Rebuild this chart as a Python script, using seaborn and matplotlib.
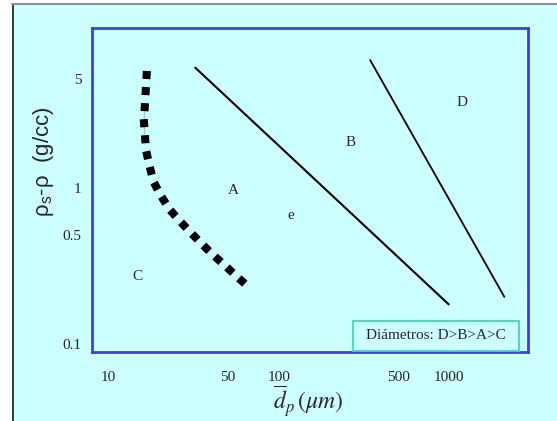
import matplotlib
matplotlib.use('Agg')
import matplotlib.pyplot as plt
from matplotlib.patches import Rectangle
from matplotlib.lines import Line2D
import seaborn as sns
import pandas as pd

# boundary lines (dp in um, rho_s - rho in g/cc)
line_ab_x = [32.3, 992]
line_ab_y = [5.87, 0.179]
line_bd_x = [343, 2104]
line_bd_y = [6.57, 0.200]

# dotted C/A boundary
curve_c_x = [16.8, 16.2, 16.1, 16.2, 16.6, 17.4, 18.4, 20.2, 22.7, 26.1, 30.3, 35.2, 41.0, 48.0, 56.2, 66.2]
curve_c_y = [5.59, 3.50, 2.78, 2.20, 1.74, 1.38, 1.09, 0.898, 0.731, 0.615, 0.518, 0.438, 0.372, 0.319, 0.272, 0.232]

region_labels = ['A', 'B', 'D', 'C', 'e']
region_x = [53.7, 265, 1190, 14.8, 117]
region_y = [0.957, 1.95, 3.52, 0.269, 0.662]

xtick_vals = [10, 50, 100, 500, 1000]
xtick_text = ['10', '50', '100', '500', '1000']
ytick_vals = [0.1, 0.5, 1, 5]
ytick_text = ['0.1', '0.5', '1', '5']

legend_text = 'Diámetros: D>B>A>C'

bg = '#ccffff'

sns.set_theme(style='white')
plt.rcParams['font.family'] = ['Liberation Serif', 'DejaVu Serif']
plt.rcParams['mathtext.fontset'] = 'stix'

fig = plt.figure(figsize=(5.57, 4.21), dpi=100)
fig.patch.set_facecolor('white')
W, H = 557, 421
fig.patches.append(Rectangle((12 / W, 0), 1, 1 - 4 / H, transform=fig.transFigure,
                             facecolor=bg, edgecolor='none', zorder=-2))
fig.lines.append(Line2D([12.5 / W, 12.5 / W], [0, 1 - 4 / H], transform=fig.transFigure,
                        color='#1a1a1a', lw=1.2, zorder=-1))
fig.lines.append(Line2D([12 / W, 1], [1 - 4 / H, 1 - 4 / H], transform=fig.transFigure,
                        color='#8a9494', lw=1.5, zorder=-1))

ax = fig.add_axes([91.5 / W, 1 - 351.7 / H, (528.2 - 91.5) / W, (351.7 - 27.7) / H])
ax.set_facecolor(bg)

df_ab = pd.DataFrame({'dp': line_ab_x, 'drho': line_ab_y})
df_bd = pd.DataFrame({'dp': line_bd_x, 'drho': line_bd_y})
df_c = pd.DataFrame({'dp': curve_c_x, 'drho': curve_c_y})

sns.lineplot(data=df_ab, x='dp', y='drho', ax=ax, color='black', lw=1.5, sort=False)
sns.lineplot(data=df_bd, x='dp', y='drho', ax=ax, color='black', lw=1.3, sort=False)
sns.lineplot(data=df_c, x='dp', y='drho', ax=ax, color='black', lw=5.8, sort=False,
             linestyle=(0, (1, 1.0)), dash_capstyle='butt')

ax.set_xscale('log')
ax.set_yscale('log')
ax.set_xlim(7.95, 2904)
ax.set_ylim(0.0891, 10.58)

for lab, x, y in zip(region_labels, region_x, region_y):
    ax.text(x, y, lab, ha='center', va='center', fontsize=11)

ax.set_xticks(xtick_vals)
ax.set_xticklabels(xtick_text)
ax.set_yticks(ytick_vals)
ax.set_yticklabels(ytick_text)
ax.minorticks_off()
ax.tick_params(axis='both', length=0, labelsize=11)
ax.tick_params(axis='x', pad=14)
ax.tick_params(axis='y', pad=7)

for sp in ax.spines.values():
    sp.set_visible(True)
    sp.set_color('#4040d8')
    sp.set_linewidth(2)

ax.add_patch(Rectangle((0.599, 0.003), 0.38, 0.092, transform=ax.transAxes,
                       facecolor=bg, edgecolor='#40d8b8', lw=1.3, zorder=5))
ax.text(0.789, 0.049, legend_text, transform=ax.transAxes, ha='center', va='center',
        fontsize=11, zorder=6)

ax.set_xlabel(r'$\overline{d}_{p}\,(\mu m)$', fontsize=17)
ax.xaxis.set_label_coords((308 - 91.5) / 436.7, (351.7 - 401) / 324)
ax.xaxis.label.set_va('center')
ax.set_ylabel('ρ$_\\mathregular{s}$-ρ  (g/cc)', fontsize=16,
              family=['Liberation Sans', 'DejaVu Sans'])
ax.yaxis.set_label_coords((44 - 91.5) / 436.7, (351.7 - 162) / 324)
ax.yaxis.label.set_va('center')

fig.savefig('out.png', dpi=100, facecolor=fig.get_facecolor())
